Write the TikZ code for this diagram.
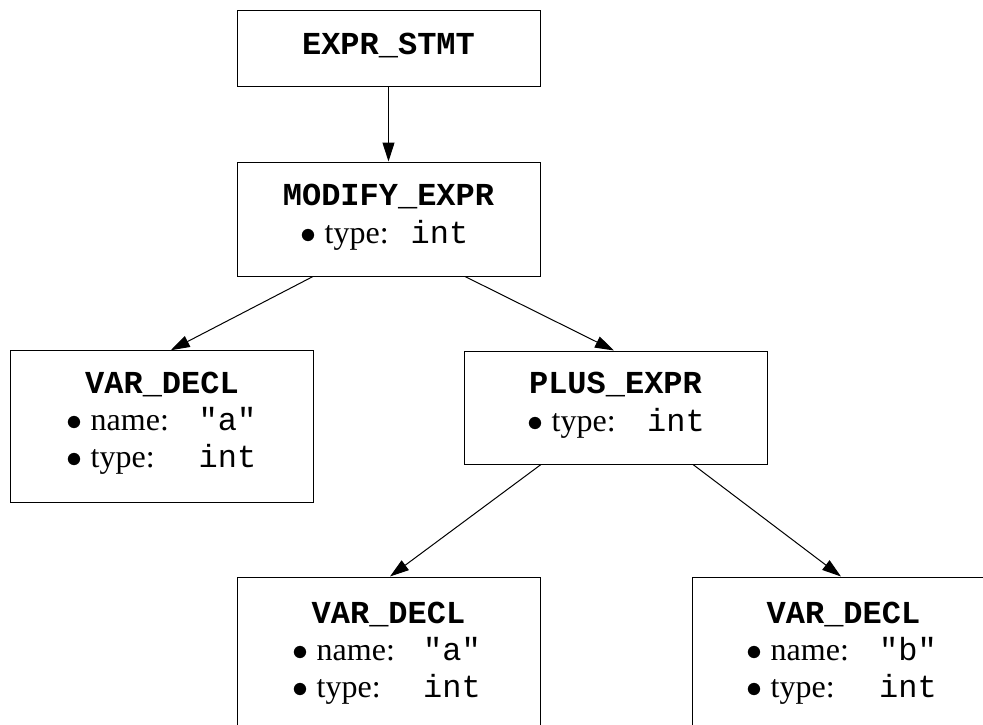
\RequirePackage{fix-cm}
\documentclass[tikz,border=0pt]{standalone}
\usepackage{fontspec}
\setmainfont{Liberation Serif}
\setmonofont{Liberation Mono}
\usetikzlibrary{arrows.meta}

% one attribute line: bullet + label in a fixed-width cell, then the value
\newcommand{\attrline}[3]{\makebox[#1][l]{$\bullet$ #2:}\texttt{#3}}
\newcommand{\hdrtext}[1]{\texttt{\bfseries #1}}

\begin{document}
\begin{tikzpicture}[x=1pt, y=-1pt,
  every node/.style={font=\fontsize{32}{37}\selectfont, inner sep=0pt},
  astbox/.style={draw, line width=1pt, rectangle, minimum width=303pt},
  hdr/.style={anchor=base},
  body/.style={anchor=base west},
  edge/.style={line width=1pt, -{Triangle[length=19pt, width=12pt]}}]
\useasboundingbox (0,0) rectangle (983,725);
\clip (0,0) rectangle (983,725);

% boxes
\node[astbox, minimum height=76pt]  (es)   at (388.5,49)    {};
\node[astbox, minimum height=114pt] (mod)  at (388.5,219)   {};
\node[astbox, minimum width=302.5pt, minimum height=151.5pt] (vd1) at (161.75,426.5) {};
\node[astbox, minimum height=113pt] (plus) at (615.5,407.5) {};
\node[astbox, minimum height=151.5pt] (vd2) at (388.5,652.75) {};
\node[astbox, minimum height=151.5pt] (vd3) at (843.5,652.75) {};

% headers
\node[hdr] (esH)   at (388.5,55)  {\hdrtext{EXPR\_STMT}};
\node[hdr] (modH)  at (388.5,205) {\hdrtext{MODIFY\_EXPR}};
\node[hdr] (vd1H)  at (162,393)   {\hdrtext{VAR\_DECL}};
\node[hdr] (plusH) at (615.5,393) {\hdrtext{PLUS\_EXPR}};
\node[hdr] (vd2H)  at (388.5,623) {\hdrtext{VAR\_DECL}};
\node[hdr] (vd3H)  at (843.5,623) {\hdrtext{VAR\_DECL}};

% attributes
\node[body] (modB) at (300.5,243) {\attrline{110pt}{type}{int}};
\node[body] (vd1B) at (66.5,430) {\begin{tabular}[t]{@{}l@{}}
  \attrline{132pt}{name}{"a"}\\
  \attrline{132pt}{type}{int}\end{tabular}};
\node[body] (plusB) at (527.5,431) {\attrline{119.5pt}{type}{int}};
\node[body] (vd2B) at (292.5,660) {\begin{tabular}[t]{@{}l@{}}
  \attrline{130.5pt}{name}{"a"}\\
  \attrline{130.5pt}{type}{int}\end{tabular}};
\node[body] (vd3B) at (746.5,660) {\begin{tabular}[t]{@{}l@{}}
  \attrline{132.5pt}{name}{"b"}\\
  \attrline{132.5pt}{type}{int}\end{tabular}};

% edges
\draw[edge] (es.south) -- (mod.north);
\draw[edge] ([xshift=-75.5pt]mod.south) -- ([xshift=9pt]vd1.north);
\draw[edge] ([xshift=76.5pt]mod.south) -- ([xshift=-1.5pt]plus.north);
\draw[edge] ([xshift=-74.5pt]plus.south) -- ([xshift=1.5pt]vd2.north);
\draw[edge] ([xshift=77.5pt]plus.south) -- ([xshift=-2.5pt]vd3.north);
\end{tikzpicture}
\end{document}
